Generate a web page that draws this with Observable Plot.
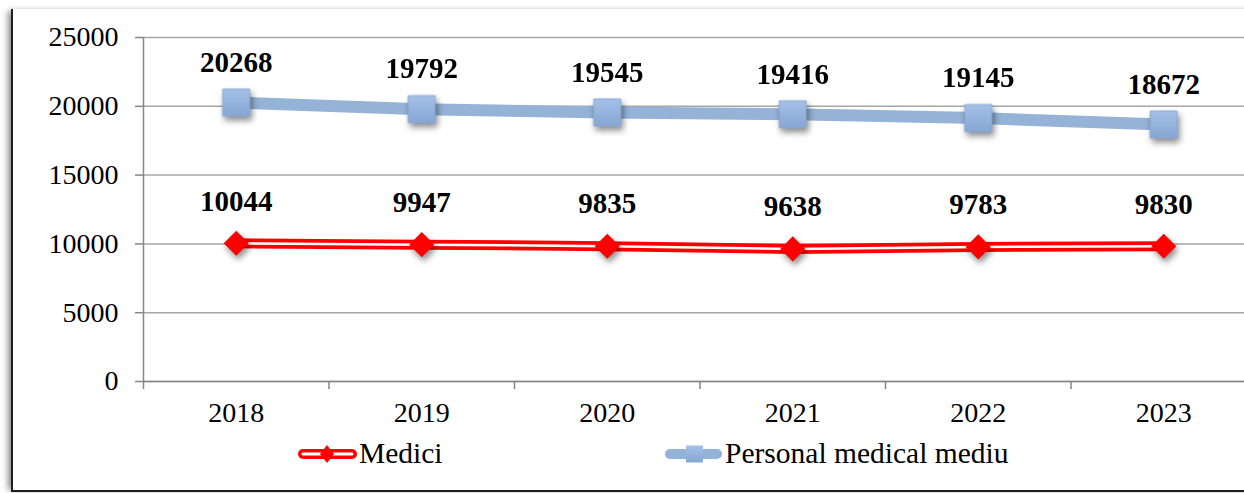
<!DOCTYPE html>
<html><head><meta charset="utf-8">
<script src="https://cdn.jsdelivr.net/npm/d3@7"></script>
<script src="https://cdn.jsdelivr.net/npm/@observablehq/plot@0.6"></script>
<style>
html,body{margin:0;padding:0;background:#fff;}
#wrap{position:relative;width:1244px;height:493px;overflow:hidden;font-family:"Liberation Serif","Times New Roman",serif;}
#frame{position:absolute;left:11px;top:9px;width:1300px;height:481px;border-left:2px solid #1e1e1e;border-bottom:2px solid #1e1e1e;box-shadow:-5px 0 6px -2px rgba(0,0,0,0.45);}
#chart{position:absolute;left:0;top:0;}
#legend{position:absolute;left:0;top:430px;}
.shadow{filter:drop-shadow(2px 4px 3px rgba(0,0,0,0.45));}
</style></head>
<body><div id="wrap"><div id="frame"></div><div id="chart"></div><div id="legend"></div></div>
<script>
const years = [2018, 2019, 2020, 2021, 2022, 2023];
const medici = [10044, 9947, 9835, 9638, 9783, 9830];
const personal = [20268, 19792, 19545, 19416, 19145, 18672];
const yTicks = [0, 5000, 10000, 15000, 20000, 25000];
const seriesNames = ["Medici", "Personal medical mediu"];

const dM = years.map((y, i) => ({year: y, value: medici[i]}));
const dP = years.map((y, i) => ({year: y, value: personal[i]}));
const bounds = years.map(y => y - 0.5).concat([years[years.length - 1] + 0.5]);

const axisColor = "#868686";
const gridColor = "#a6a6a6";
const blue = "#95b3d7";
const red = "#ff0000";

const plot = Plot.plot({
  width: 1244, height: 430,
  marginLeft: 143, marginRight: 0, marginTop: 37, marginBottom: 49,
  style: {fontFamily: "'Liberation Serif', 'Times New Roman', serif", fontSize: "28px", color: "#000", background: "transparent"},
  x: {type: "linear", domain: [bounds[0], bounds[bounds.length - 1]], range: [143, 1256], label: null},
  y: {domain: [0, 25000], range: [381, 37], label: null},
  marks: [
    Plot.gridY(yTicks, {stroke: gridColor, strokeOpacity: 1, strokeWidth: 1.5}),
    Plot.ruleX([bounds[0]], {stroke: axisColor, strokeWidth: 1.5}),
    Plot.ruleY([0], {stroke: axisColor, strokeWidth: 1.5}),
    Plot.axisY(yTicks, {tickSize: 8, tickPadding: 17, stroke: axisColor, strokeWidth: 1.5, fill: "#000", fontSize: 28, label: null, tickFormat: d => String(d)}),
    Plot.axisX(bounds, {tickSize: 8, stroke: axisColor, strokeWidth: 1.5, label: null, tickFormat: () => ""}),
    Plot.axisX(years, {tickSize: 0, tickPadding: 21, fill: "#000", fontSize: 28, label: null, tickFormat: d => String(d)}),
    Plot.line(dP, {x: "year", y: "value", stroke: blue, strokeWidth: 12}),
    Plot.dot(dP, {x: "year", y: "value", symbol: "square", r: 15.2, fill: "url(#sqgrad)", stroke: "#88a9d4", strokeWidth: 1, className: "shadow"}),
    Plot.line(dM, {x: "year", y: "value", stroke: red, strokeWidth: 10}),
    Plot.line(dM, {x: "year", y: "value", stroke: "#fff", strokeWidth: 2.5}),
    Plot.dot(dM, {x: "year", y: "value", symbol: "diamond2", r: 11.3, fill: red, className: "shadow"}),
    Plot.text(dP, {x: "year", y: "value", text: d => String(d.value), dy: -40, fontWeight: "bold", fontSize: 29, fill: "#000"}),
    Plot.text(dM, {x: "year", y: "value", text: d => String(d.value), dy: -42, fontWeight: "bold", fontSize: 29, fill: "#000"})
  ]
});
const defs = d3.select(plot).insert("defs", ":first-child");
const g = defs.append("linearGradient").attr("id", "sqgrad").attr("x1", 0).attr("y1", 0).attr("x2", 0).attr("y2", 1);
g.append("stop").attr("offset", "0%").attr("stop-color", "#a4c1e8");
g.append("stop").attr("offset", "100%").attr("stop-color", "#86a7d4");
document.getElementById("chart").appendChild(plot);

// legend
const lg = d3.select("#legend").append("svg").attr("width", 1244).attr("height", 63)
  .style("font-family", "'Liberation Serif', 'Times New Roman', serif");
const d2 = lg.append("defs").append("linearGradient").attr("id", "sqgrad2").attr("x1", 0).attr("y1", 0).attr("x2", 0).attr("y2", 1);
d2.append("stop").attr("offset", "0%").attr("stop-color", "#a4c1e8");
d2.append("stop").attr("offset", "100%").attr("stop-color", "#86a7d4");
const ly = 24;
// Medici
lg.append("line").attr("x1", 303).attr("x2", 352).attr("y1", ly).attr("y2", ly)
  .attr("stroke", red).attr("stroke-width", 10).attr("stroke-linecap", "round");
lg.append("line").attr("x1", 303).attr("x2", 352).attr("y1", ly).attr("y2", ly)
  .attr("stroke", "#fff").attr("stroke-width", 3).attr("stroke-linecap", "round");
lg.append("path").attr("d", `M327,${ly-9}L334,${ly}L327,${ly+9}L320,${ly}Z`).attr("fill", red);
lg.append("text").attr("x", 359).attr("y", 33).attr("font-size", 29.5).text(seriesNames[0]);
// Personal
lg.append("line").attr("x1", 670).attr("x2", 717).attr("y1", ly).attr("y2", ly)
  .attr("stroke", blue).attr("stroke-width", 10).attr("stroke-linecap", "round");
lg.append("rect").attr("x", 686).attr("y", ly - 8.5).attr("width", 17).attr("height", 17).attr("fill", "url(#sqgrad2)");
lg.append("text").attr("x", 725).attr("y", 33).attr("font-size", 29.5).text(seriesNames[1]);
</script>
</body></html>
